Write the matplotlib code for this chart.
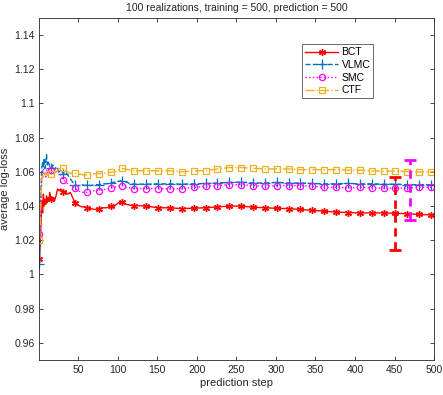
import matplotlib
matplotlib.use("Agg")
import matplotlib.pyplot as plt
from matplotlib.ticker import FuncFormatter

plt.rcParams['font.family'] = ['Liberation Sans', 'DejaVu Sans']

# prediction steps at which the curves are sampled
steps = [1, 2, 3, 4, 5, 6, 7, 8, 9, 10, 11, 12, 13, 14,
         16, 18, 20, 22, 24, 26, 28,
         31, 34, 37, 40, 43, 46, 49, 52, 55, 58, 61,
         66, 71, 76, 81, 86, 91, 96, 101, 106, 111, 116, 121,
         136, 151, 166, 181, 196, 211, 226, 241, 256, 271, 286, 301, 316,
         331, 346, 361, 376, 391, 406, 421, 436, 451, 466, 481, 496,
         500]

bct = [1.009, 1.018, 1.030, 1.043, 1.036, 1.047, 1.040, 1.044, 1.041, 1.046, 1.042, 1.045, 1.043, 1.048,
       1.044, 1.045, 1.043, 1.046, 1.050, 1.049, 1.050,
       1.048, 1.048, 1.047, 1.048, 1.045, 1.042, 1.041, 1.040, 1.0395, 1.0395, 1.039,
       1.0385, 1.038, 1.0385, 1.039, 1.039, 1.040, 1.040, 1.042, 1.0424, 1.041, 1.0405, 1.0403,
       1.040, 1.039, 1.039, 1.0385, 1.0388, 1.039, 1.0395, 1.040, 1.040, 1.0393, 1.039, 1.0387, 1.0385,
       1.038, 1.0375, 1.037, 1.0365, 1.0362, 1.036, 1.036, 1.036, 1.0358, 1.0355, 1.0351, 1.0348,
       1.0348]

vlmc = [1.006, 1.025, 1.050, 1.062, 1.066, 1.063, 1.068, 1.062, 1.066, 1.070, 1.064, 1.066, 1.065, 1.063,
        1.062, 1.064, 1.061, 1.063, 1.062, 1.060, 1.061,
        1.059, 1.060, 1.058, 1.056, 1.054, 1.0525, 1.052, 1.052, 1.0525, 1.052, 1.0525,
        1.052, 1.0525, 1.0525, 1.053, 1.053, 1.0535, 1.054, 1.0545, 1.0548, 1.054, 1.053, 1.0528,
        1.0528, 1.053, 1.053, 1.0528, 1.053, 1.0532, 1.0535, 1.0538, 1.054, 1.0535, 1.0535, 1.0538, 1.0535,
        1.0535, 1.0532, 1.053, 1.053, 1.0532, 1.053, 1.053, 1.0528, 1.0528, 1.0525, 1.0525, 1.0525,
        1.0525]

smc = [1.0236, 1.030, 1.045, 1.055, 1.060, 1.062, 1.058, 1.060, 1.057, 1.061, 1.059, 1.060, 1.061, 1.062,
       1.061, 1.060, 1.059, 1.060, 1.061, 1.059, 1.058,
       1.0555, 1.054, 1.053, 1.052, 1.051, 1.0505, 1.049, 1.0485, 1.048, 1.048, 1.048,
       1.0485, 1.049, 1.049, 1.0495, 1.050, 1.0505, 1.051, 1.0515, 1.052, 1.051, 1.0505, 1.0502,
       1.0502, 1.0502, 1.050, 1.0502, 1.051, 1.0515, 1.052, 1.0525, 1.0525, 1.052, 1.0515, 1.052, 1.052,
       1.052, 1.0515, 1.051, 1.051, 1.0505, 1.051, 1.0508, 1.0505, 1.0505, 1.0505, 1.051, 1.051,
       1.051]

ctf = [1.0201, 1.028, 1.045, 1.055, 1.058, 1.057, 1.060, 1.058, 1.059, 1.059, 1.058, 1.058, 1.059, 1.059,
       1.0585, 1.058, 1.059, 1.060, 1.061, 1.062, 1.062,
       1.062, 1.061, 1.060, 1.059, 1.0595, 1.0592, 1.059, 1.0585, 1.0585, 1.058, 1.0583,
       1.0585, 1.059, 1.059, 1.0592, 1.0595, 1.0598, 1.060, 1.061, 1.062, 1.0615, 1.061, 1.0606,
       1.0606, 1.0606, 1.0606, 1.060, 1.0606, 1.0606, 1.0617, 1.0625, 1.0625, 1.0621, 1.0617, 1.0617, 1.0617,
       1.0613, 1.0613, 1.0613, 1.0613, 1.061, 1.061, 1.0605, 1.0605, 1.0605, 1.0602, 1.060, 1.060,
       1.060]

# error bars (BCT, SMC)
err_steps = [450, 470]
err_center = [1.0356, 1.0492]
err_half = [0.0215, 0.0175]
err_colors = ['#ff0000', '#ff00ff']

xticks = [50, 100, 150, 200, 250, 300, 350, 400, 450, 500]
yticks = [0.96, 0.98, 1.0, 1.02, 1.04, 1.06, 1.08, 1.1, 1.12, 1.14]

fig = plt.figure(figsize=(4.43, 3.95), dpi=100)
ax = fig.add_axes([0.089, 0.0886, 0.891, 0.866])

# markers every 15 steps, starting at step 1
mark_idx = [i for i, s in enumerate(steps) if (s - 1) % 15 == 0]

ax.plot(steps, bct, '-', color='#ff0000', lw=1, marker=(6, 2, 0), ms=5, mew=1,
        markevery=mark_idx, label='BCT')
ax.plot(steps, vlmc, '--', color='#0072bd', lw=1, marker='+', ms=6.5, mew=0.9,
        markevery=mark_idx, label='VLMC')
ax.plot(steps, smc, ':', color='#ff00ff', lw=1, marker='o', ms=4.5, mew=0.9,
        mfc='none', markevery=mark_idx, label='SMC')
ax.plot(steps, ctf, '-.', color='#edb120', lw=1, marker='s', ms=4.5, mew=0.9,
        mfc='none', markevery=mark_idx, label='CTF')

for xs, yc, e, c in zip(err_steps, err_center, err_half, err_colors):
    cont = ax.errorbar([xs], [yc], yerr=[e], fmt='none', ecolor=c,
                       elinewidth=2, capsize=4, capthick=2)
    for lc in cont[2]:
        lc.set_linestyle((0, (3, 2)))

ax.set_xlim(1, 500)
ax.set_ylim(0.95, 1.15)
ax.set_xticks(xticks)
ax.set_yticks(yticks)
ax.yaxis.set_major_formatter(FuncFormatter(lambda v, p: f"{v:g}"))
ax.tick_params(direction='in', top=True, right=True, labelsize=7.5,
               length=3, width=0.6, colors='#262626')
for sp in ax.spines.values():
    sp.set_color('#262626')
    sp.set_linewidth(0.6)

ax.set_xlabel('prediction step', fontsize=8, color='#262626', labelpad=2)
ax.set_ylabel('average log-loss', fontsize=8, color='#262626', labelpad=3)
ax.set_title('100 realizations, training = 500, prediction = 500', fontsize=7.5,
             color='#262626', pad=5)

leg = ax.legend(loc='upper left', bbox_to_anchor=(0.665, 0.923), fontsize=7.5,
                frameon=True, fancybox=False, edgecolor='#262626',
                handlelength=3.2, handletextpad=0.3, borderpad=0.3,
                labelspacing=0.25, borderaxespad=0)
leg.get_frame().set_linewidth(0.6)

fig.savefig('out.png', dpi=100)
